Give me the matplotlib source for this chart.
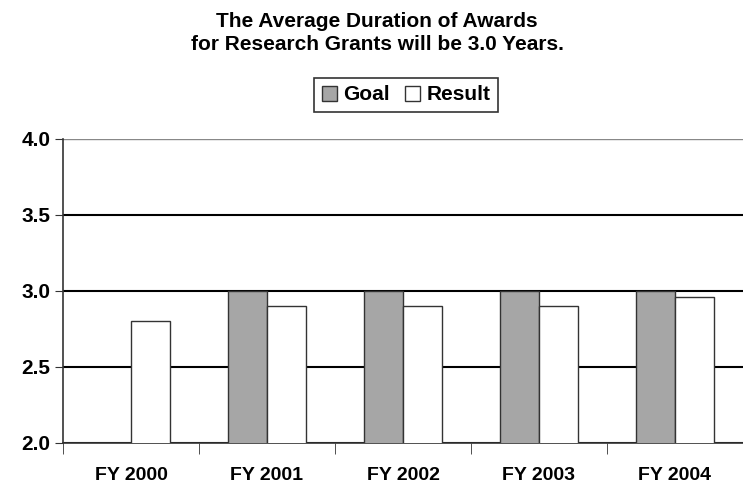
import numpy as np
import matplotlib.pyplot as plt

categories = ["FY 2000", "FY 2001", "FY 2002", "FY 2003", "FY 2004"]
goal = [np.nan, 3.0, 3.0, 3.0, 3.0]
result = [2.8, 2.9, 2.9, 2.9, 2.96]

plt.rcParams['font.family'] = ['Liberation Sans', 'DejaVu Sans']
plt.rcParams['font.weight'] = 'bold'

fig = plt.figure(figsize=(7.43, 4.91), dpi=100)
ax = fig.add_axes([63/743, 1 - 443/491, 680/743, 304/491])

x = np.arange(len(categories))
w = 0.285
ax.bar(x - w/2, goal, w, color='#a6a6a6', edgecolor='#333333', linewidth=1, label='Goal', zorder=3)
ax.bar(x + w/2, result, w, color='white', edgecolor='#333333', linewidth=1, label='Result', zorder=3)

ax.set_ylim(2.0, 4.0)
ax.set_xlim(-0.5, len(categories) - 0.5)
ax.set_yticks([2.0, 2.5, 3.0, 3.5, 4.0])
ax.set_yticklabels(['2.0', '2.5', '3.0', '3.5', '4.0'], fontsize=15, fontweight='bold')
ax.set_xticks(x)
ax.set_xticklabels(categories, fontsize=14, fontweight='bold')
ax.set_xticks(np.arange(len(categories) + 1) - 0.5, minor=True)
ax.tick_params(axis='x', which='major', length=0, pad=17)
ax.tick_params(axis='x', which='minor', length=8, color='#333333')
ax.tick_params(axis='y', length=6, color='#333333', pad=3)
ax.yaxis.grid(True, color='black', linewidth=1.5, zorder=0)
ax.set_axisbelow(True)
ax.get_ygridlines()[-1].set_color('#888888')
ax.get_ygridlines()[-1].set_linewidth(1)
for s in ['top', 'right']:
    ax.spines[s].set_visible(False)
for s in ['left', 'bottom']:
    ax.spines[s].set_color('#333333')
    ax.spines[s].set_linewidth(1.2)

fig.text(377/743, 1 - 33/491, "The Average Duration of Awards\nfor Research Grants will be 3.0 Years.",
         ha='center', va='center', fontsize=15, fontweight='bold', linespacing=1.3)

leg = fig.legend(loc='center', bbox_to_anchor=(406/743, 1 - 95/491), ncol=2, fontsize=15,
                 frameon=True, fancybox=False, edgecolor='black', handlelength=0.75,
                 handleheight=0.75, handletextpad=0.3, columnspacing=0.7, borderpad=0.35)
leg.get_frame().set_linewidth(1.2)

fig.savefig('out.png', dpi=100)
